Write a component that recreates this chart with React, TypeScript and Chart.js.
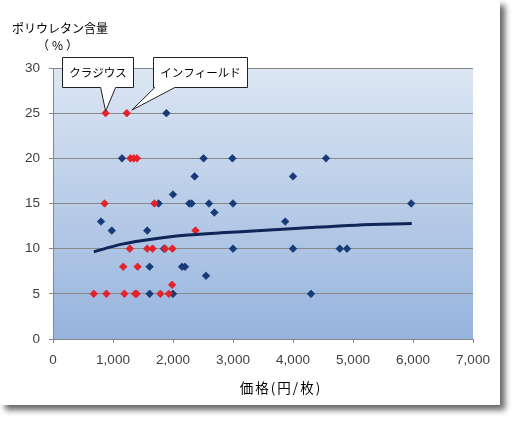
import React, { useEffect, useRef } from "react";
import { Chart, registerables } from "chart.js";

Chart.register(...registerables);

// ---- data ----
const blueX = [1890, 1150, 2510, 2990, 4550, 2360, 4000, 2000, 1760, 2270, 2310, 2600, 3000, 5970, 2690, 800, 3870, 980, 1570, 1850, 3000, 4000, 4780, 4900, 1610, 2150, 2200, 2550, 1610, 2000, 4300];
const blueY = [25, 20, 20, 20, 20, 18, 18, 16, 15, 15, 15, 15, 15, 15, 14, 13, 13, 12, 12, 10, 10, 10, 10, 10, 8, 8, 8, 7, 5, 5, 5];

const redX = [877, 1230, 1290, 1345, 1400, 860, 1690, 2375, 1280, 1570, 1660, 1870, 1990, 1170, 1410, 1985, 680, 890, 1190, 1370, 1395, 1790, 1930];
const redY = [25, 25, 20, 20, 20, 15, 15, 12, 10, 10, 10, 10, 10, 8, 8, 6, 5, 5, 5, 5, 5, 5, 5];

const trendX = [680, 1150, 1700, 2250, 2800, 3400, 4300, 5050, 5980];
const trendY = [9.65, 10.5, 11.1, 11.5, 11.75, 11.97, 12.34, 12.6, 12.78];

const xTicks = [0, 1000, 2000, 3000, 4000, 5000, 6000, 7000];
const xTickLabels = ["0", "1,000", "2,000", "3,000", "4,000", "5,000", "6,000", "7,000"];
const yTicks = [0, 5, 10, 15, 20, 25, 30];
const yTickLabels = ["0", "5", "10", "15", "20", "25", "30"];

const calloutTexts = ["クラジウス", "インフィールド"];
const calloutIndexes = [0, 1]; // indexes in the red series

const yTitleLines = ["ポリウレタン含量", "（%）"];
const xTitle = "価格(円/枚)";

const JP = '"Noto Sans CJK JP", "Noto Sans", sans-serif';
const NUM = '"Liberation Sans", Arial, sans-serif';

const BLUE = "#163b78";
const RED = "#e3222a";

const framePlugin = {
  id: "frame",
  beforeDraw(chart: any) {
    const { ctx, chartArea } = chart;
    ctx.save();
    ctx.fillStyle = "#ffffff";
    ctx.fillRect(0, 0, chart.width, chart.height);
    ctx.shadowColor = "rgba(0,0,0,0.6)";
    ctx.shadowBlur = 6;
    ctx.shadowOffsetX = 5;
    ctx.shadowOffsetY = 5;
    ctx.fillRect(0, 0, 500, 405);
    ctx.restore();
    ctx.save();
    ctx.fillStyle = "#ffffff";
    ctx.fillRect(0, 0, 500, 405);
    const g = ctx.createLinearGradient(0, chartArea.top, 0, chartArea.bottom);
    g.addColorStop(0, "#dce6f3");
    g.addColorStop(1, "#96b3dd");
    ctx.fillStyle = g;
    ctx.fillRect(chartArea.left, chartArea.top, chartArea.right - chartArea.left, chartArea.bottom - chartArea.top);
    ctx.restore();
  },
};

const textPlugin = {
  id: "texts",
  afterDraw(chart: any) {
    const { ctx } = chart;
    ctx.save();
    ctx.fillStyle = "#000";
    ctx.textBaseline = "middle";
    ctx.font = `12px ${JP}`;
    ctx.textAlign = "left";
    ctx.fillText(yTitleLines[0], 12, 28);
    ctx.textAlign = "center";
    (ctx as any).letterSpacing = "3px";
    ctx.fillText(yTitleLines[1], 59, 45);
    (ctx as any).letterSpacing = "2px";
    ctx.font = `13.5px ${JP}`;
    ctx.fillText(xTitle, 281, 388);
    (ctx as any).letterSpacing = "0px";

    // callouts
    const meta = chart.getDatasetMeta(1);
    const geo = [
      { bx: -44, by: -56, w: 71, h: 30, b0: -5, b1: 10, tx: 0, ty: -2 },
      { bx: 26, by: -56, w: 94, h: 30, b0: 28, b1: 48, tx: 5, ty: -3 },
    ];
    calloutTexts.forEach((t, i) => {
      const el = meta.data[calloutIndexes[i]];
      if (!el) return;
      const px = el.x;
      const py = el.y;
      const g = geo[i];
      const L = Math.round(px + g.bx) + 0.5;
      const T = Math.round(py + g.by) + 0.5;
      const R = L + g.w;
      const B = T + g.h;
      ctx.beginPath();
      ctx.moveTo(L, T);
      ctx.lineTo(R, T);
      ctx.lineTo(R, B);
      ctx.lineTo(px + g.b1, B);
      ctx.lineTo(px + g.tx, py + g.ty);
      ctx.lineTo(px + g.b0, B);
      ctx.lineTo(L, B);
      ctx.closePath();
      ctx.fillStyle = "#fff";
      ctx.fill();
      ctx.strokeStyle = "#222";
      ctx.lineWidth = 1;
      ctx.stroke();
      ctx.fillStyle = "#000";
      ctx.font = `11.5px ${JP}`;
      ctx.textAlign = "center";
      ctx.textBaseline = "middle";
      ctx.fillText(t, (L + R) / 2, (T + B) / 2);
    });
    ctx.restore();
  },
};

export default function App() {
  const ref = useRef<HTMLCanvasElement | null>(null);
  useEffect(() => {
    if (!ref.current) return;
    const blue = blueX.map((x, i) => ({ x, y: blueY[i] }));
    const red = redX.map((x, i) => ({ x, y: redY[i] }));
    const trend = trendX.map((x, i) => ({ x, y: trendY[i] }));
    const chart = new Chart(ref.current, {
      type: "scatter",
      data: {
        datasets: [
          {
            label: "blue",
            data: blue,
            pointStyle: "rectRot",
            pointRadius: 3.8,
            backgroundColor: BLUE,
            borderColor: "rgba(22,59,120,0.7)",
            borderWidth: 1,
            order: 3,
          },
          {
            label: "red",
            data: red,
            pointStyle: "rectRot",
            pointRadius: 3.8,
            backgroundColor: RED,
            borderColor: "rgba(227,34,42,0.7)",
            borderWidth: 1,
            order: 2,
          },
          {
            type: "line",
            label: "trend",
            data: trend,
            showLine: true,
            pointRadius: 0,
            borderColor: "#0e2658",
            borderWidth: 3,
            tension: 0.4,
            cubicInterpolationMode: "monotone",
            fill: false,
            order: 1,
          } as any,
        ],
      },
      options: {
        responsive: false,
        animation: false,
        devicePixelRatio: 1,
        events: [],
        layout: { padding: { left: 0, top: 68, right: 45, bottom: 0 } },
        plugins: { legend: { display: false }, tooltip: { enabled: false }, title: { display: false } },
        scales: {
          x: {
            type: "linear",
            min: 0,
            max: 7000,
            afterFit: (s: any) => {
              s.height = 84;
            },
            afterBuildTicks: (s: any) => {
              s.ticks = xTicks.map((v) => ({ value: v }));
            },
            ticks: {
              callback: (_v: any, i: number) => xTickLabels[i],
              font: { family: NUM, size: 13.5 },
              color: "#404040",
              padding: 9,
              maxRotation: 0,
              autoSkip: false,
            },
            grid: { drawOnChartArea: false, drawTicks: true, tickLength: 4, color: "#868686" },
            border: { display: true, color: "#868686" },
          },
          y: {
            type: "linear",
            min: 0,
            max: 30,
            afterFit: (s: any) => {
              s.width = 53;
            },
            afterBuildTicks: (s: any) => {
              s.ticks = yTicks.map((v) => ({ value: v }));
            },
            ticks: {
              callback: (_v: any, i: number) => yTickLabels[i],
              font: { family: NUM, size: 13.5 },
              color: "#404040",
              padding: 9,
              autoSkip: false,
            },
            grid: { drawOnChartArea: true, drawTicks: true, tickLength: 4, color: "#898989" },
            border: { display: true, color: "#868686" },
          },
        },
      } as any,
      plugins: [framePlugin, textPlugin],
    });
    return () => chart.destroy();
  }, []);
  return (
    <div style={{ position: "absolute", left: 0, top: 0, width: 518, height: 423, background: "#fff" }}>
      <canvas ref={ref} width={518} height={423} style={{ width: 518, height: 423, display: "block" }} />
    </div>
  );
}
